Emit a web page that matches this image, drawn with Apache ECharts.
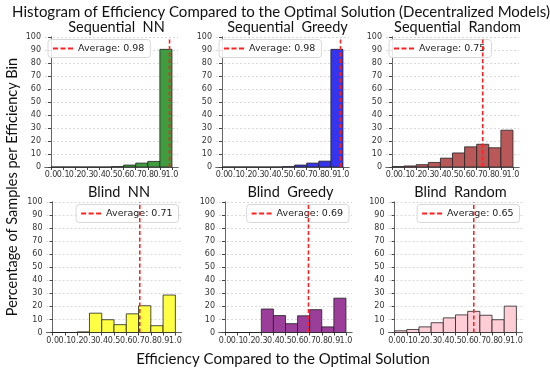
<!DOCTYPE html>
<html>
<head>
<meta charset="utf-8">
<script src="https://cdn.jsdelivr.net/npm/echarts@6/dist/echarts.min.js"></script>
<style>html,body{margin:0;padding:0;background:#fff}#c{width:550px;height:376px}</style>
</head>
<body>
<div id="c"></div>
<script>
// ---- data ----
const binEdges = [0.0,0.1,0.2,0.3,0.4,0.5,0.6,0.7,0.8,0.9,1.0];
const xTickLabels = ["0.0","0.1","0.2","0.3","0.4","0.5","0.6","0.7","0.8","0.9","1.0"];
const yTicks = [0,10,20,30,40,50,60,70,80,90,100];
const panelTitles = ["Sequential  NN","Sequential  Greedy","Sequential  Random","Blind  NN","Blind  Greedy","Blind  Random"];
const seqNN      = [0,0,0,0,0,0.3,1.5,3.0,4.3,90.5];
const seqGreedy  = [0,0,0,0,0,0.3,1.5,3.0,4.5,90.5];
const seqRandom  = [0.3,0.8,1.8,3.5,6.8,10.8,15.5,17.5,14.8,28.3];
const blindNN    = [0,0,0.5,14.8,9.8,6.0,14.3,20.5,5.2,28.7];
const blindGreedy= [0,0,0,18.0,13.0,6.8,12.8,17.5,4.3,26.3];
const blindRandom= [1.3,2.3,4.3,7.5,11.2,13.5,16.2,13.2,9.8,20.2];
const averages   = [0.98,0.98,0.75,0.71,0.69,0.65];

const seriesValues = [seqNN, seqGreedy, seqRandom, blindNN, blindGreedy, blindRandom];
const colors = ['#3f9c3f','#3535f0','#b85858','#ffff44','#9a3e9a','#ffcdd5'];

// ---- layout ----
const grids = [
  {left:45, top:37, width:133, height:130},
  {left:216, top:37, width:133, height:130},
  {left:386, top:37, width:133, height:130},
  {left:46.5, top:202, width:135, height:130.5},
  {left:219, top:202, width:133, height:130.5},
  {left:388.5, top:202, width:134, height:130.5}
];

const evenEdges = binEdges.filter((v,k)=>k%2===0);
const oddEdges = binEdges.filter((v,k)=>k%2===1);
const labelFmt = v=>xTickLabels[Math.round(v*10)];
const labelStyle = {fontSize:8, color:'#333', margin:4, fontFamily:'DejaVu Sans', hideOverlap:false, formatter:labelFmt};

const titles = [{
  text:'Histogram of Efficiency Compared to the Optimal Solution (Decentralized Models)',
  left:276, top:0, textAlign:'center',
  textStyle:{fontFamily:'Lato', fontSize:15, fontWeight:'normal', color:'#111'}
}];
const dashIcon = 'path://M0,0h5v2h-5z M7.5,0h5v2h-5z M15,0h5v2h-5z';
const xAxes=[], yAxes=[], series=[], legends=[];
grids.forEach((g,i)=>{
  titles.push({
    text:panelTitles[i], left:g.left+g.width/2, top:g.top-22, textAlign:'center',
    textStyle:{fontFamily:'Lato', fontSize:14.5, fontWeight:'normal', color:'#111'}
  });
  xAxes.push({
    type:'value', gridIndex:i, min:-0.05, max:1.05, position:'bottom', offset:0,
    axisLine:{show:true, onZero:false, lineStyle:{color:'#666', width:1}},
    axisTick:{show:true, length:3, customValues:binEdges, lineStyle:{color:'#444'}},
    axisLabel:Object.assign({customValues:evenEdges}, labelStyle),
    splitLine:{show:false}
  });
  xAxes.push({
    type:'value', gridIndex:i, min:-0.05, max:1.05, position:'bottom', offset:0,
    axisLine:{show:false, onZero:false},
    axisTick:{show:false},
    axisLabel:Object.assign({customValues:oddEdges}, labelStyle),
    splitLine:{show:false}
  });
  xAxes.push({
    type:'value', gridIndex:i, position:'top', min:0, max:1,
    axisLine:{show:true, lineStyle:{color:'#666', width:1}},
    axisTick:{show:false}, axisLabel:{show:false}, splitLine:{show:false}
  });
  yAxes.push({
    type:'value', gridIndex:i, min:0, max:100, interval:10,
    axisLine:{show:true, lineStyle:{color:'#666', width:1}},
    axisTick:{show:true, length:3, lineStyle:{color:'#444'}},
    axisLabel:{fontSize:8, color:'#333', margin:4, fontFamily:'DejaVu Sans', showMinLabel:true, showMaxLabel:true},
    splitLine:{show:true, lineStyle:{color:'#d0d0d0', type:[2,2], width:0.8}}
  });
  yAxes.push({
    type:'value', gridIndex:i, position:'right', min:0, max:100,
    axisLine:{show:true, lineStyle:{color:'#666', width:1}},
    axisTick:{show:false}, axisLabel:{show:false}, splitLine:{show:false}
  });
  const data = seriesValues[i].map((v,k)=>[binEdges[k], binEdges[k+1], v]);
  const col = colors[i];
  series.push({
    type:'custom', xAxisIndex:3*i, yAxisIndex:2*i,
    data:data, encode:{x:[0,1], y:2},
    renderItem:(params, api)=>{
      const p0 = api.coord([api.value(0), api.value(2)]);
      const p1 = api.coord([api.value(1), 0]);
      return {type:'rect', shape:{x:p0[0], y:p0[1], width:p1[0]-p0[0], height:p1[1]-p0[1]},
        style:{fill:col, stroke:'#222', lineWidth:0.8}};
    },
    silent:true, z:2
  });
  const nm = 'Average: ' + averages[i].toFixed(2);
  series.push({
    type:'line', name:nm, xAxisIndex:3*i, yAxisIndex:2*i,
    data:[[averages[i],0],[averages[i],100]],
    symbol:'none', itemStyle:{color:'#ff2020'},
    lineStyle:{color:'#ff2020', width:1.6, type:[4,2.5]},
    z:5, silent:true
  });
  const lg = {
    data:[{name:nm, icon:dashIcon}], top:g.top+2.5, itemWidth:20, itemHeight:2, itemGap:4,
    padding:[4,6,4,5], borderColor:'#d8d8d8', borderWidth:1, borderRadius:3,
    backgroundColor:'rgba(255,255,255,0.85)',
    itemStyle:{color:'#ff2020'},
    textStyle:{fontSize:9.5, color:'#222', fontFamily:'DejaVu Sans'},
    selectedMode:false
  };
  if(i<3){ lg.left = g.left+3; } else { lg.right = 550-(g.left+g.width)+3; }
  legends.push(lg);
});

titles.push({
  text:'Efficiency Compared to the Optimal Solution', left:278, top:347, textAlign:'center',
  textStyle:{fontFamily:'Lato', fontSize:15, fontWeight:'normal', color:'#111'}
});

const chart = echarts.init(document.getElementById('c'), null, {renderer:'canvas'});
chart.setOption({
  animation:false,
  backgroundColor:'#fff',
  title:titles,
  grid:grids,
  xAxis:xAxes,
  yAxis:yAxes,
  legend:legends,
  series:series,
  graphic:[{
    type:'text', x:12, y:187, rotation:Math.PI/2, origin:[0,0],
    style:{text:'Percentage of Samples per Efficiency Bin', fontFamily:'Lato', fontSize:14.5, fill:'#111', align:'center', verticalAlign:'middle'}
  }]
});
</script>
</body>
</html>
